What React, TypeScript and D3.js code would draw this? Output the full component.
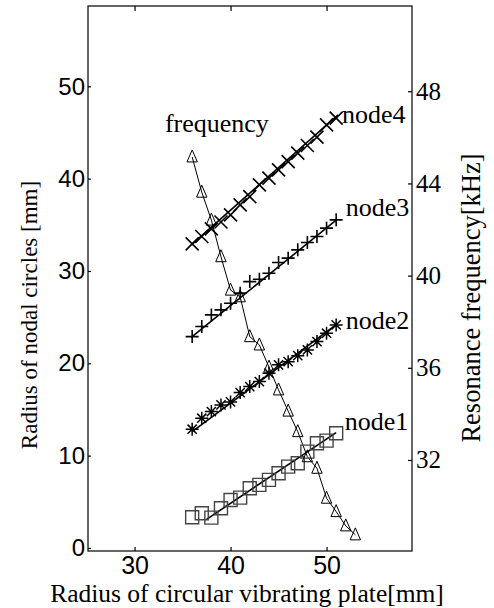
import React, { useEffect, useRef } from "react";
import * as d3 from "d3";

// plate radius [mm] for the nodal circle measurements
const plateRadius = [36, 37, 38, 39, 40, 41, 42, 43, 44, 45, 46, 47, 48, 49, 50, 51];
const node1 = [3.33, 3.76, 3.28, 4.3, 5.2, 5.45, 6.47, 6.83, 7.37, 8.09, 8.81, 9.18, 10.43, 11.34, 11.63, 12.43];
const node2 = [12.86, 14.05, 14.77, 15.49, 15.82, 16.83, 17.48, 18.02, 18.93, 19.83, 20.18, 20.83, 21.45, 22.35, 23.26, 24.16];
const node3 = [22.89, 23.98, 25.24, 25.79, 26.51, 27.6, 28.85, 29.11, 29.76, 30.91, 31.39, 32.29, 33.08, 33.73, 34.64, 35.54];
const node4 = [32.94, 33.73, 34.56, 35.3, 36.08, 37.16, 38.06, 39.33, 40.05, 40.95, 41.85, 42.76, 43.59, 44.5, 45.83, 46.55];

// resonance frequency [kHz]
const freqRadius = [36, 37, 38, 39, 40, 41, 42, 43, 44, 45, 46, 47, 48, 49, 50, 51, 52, 53];
const frequency = [45.15, 43.62, 42.41, 40.82, 39.37, 39.08, 37.35, 36.99, 36.03, 35.04, 34.12, 33.23, 32.14, 31.64, 30.34, 29.76, 29.14, 28.75];

// fitted straight lines, [start, end]
const fitX = [[37.5, 51], [36, 51], [35.9, 51], [36, 51.2]];
const fitY = [[3.1, 12.5], [12.6, 24.2], [22.8, 35.5], [32.9, 46.9]];

const nodeNames = ["node1", "node2", "node3", "node4"];
const nodeLabelX = [51.9, 52, 52, 51.6];
const nodeLabelY = [12.78, 23.73, 35.97, 46.05];

const xTicks = [30, 40, 50];
const yTicks = [0, 10, 20, 30, 40, 50];
const fTicks = [32, 36, 40, 44, 48];

const App = () => {
  const svgRef = useRef<SVGSVGElement>(null);

  useEffect(() => {
    const width = 494;
    const height = 608;
    const left = 88, right = 412, top = 6, bottom = 551;
    const serif = "'Liberation Serif', 'Times New Roman', serif";
    const sans = "'Liberation Sans', Arial, sans-serif";

    const svg = d3.select(svgRef.current).attr("width", width).attr("height", height);
    svg.selectAll("*").remove();

    const x = d3.scaleLinear().domain([25.15, 58.9]).range([left, right]);
    const y = d3.scaleLinear().domain([-0.33, 58.7]).range([bottom, top]);
    const yf = d3.scaleLinear().domain([28.05, 51.7]).range([bottom, top]);

    // frame
    svg.append("rect")
      .attr("x", left).attr("y", top)
      .attr("width", right - left).attr("height", bottom - top)
      .attr("fill", "none").attr("stroke", "#000").attr("stroke-width", 1.2);

    // axes (ticks pointing inward)
    const gx = svg.append("g").attr("transform", `translate(0,${bottom})`)
      .call(d3.axisBottom(x).tickValues(xTicks).tickSizeInner(-4).tickSizeOuter(0).tickPadding(5));
    gx.selectAll("text").attr("font-family", sans).attr("font-size", 25);

    svg.append("g").attr("transform", `translate(0,${top})`)
      .call(d3.axisTop(x).tickValues(xTicks).tickSizeInner(-5).tickSizeOuter(0).tickFormat(() => ""));

    const gy = svg.append("g").attr("transform", `translate(${left},0)`)
      .call(d3.axisLeft(y).tickValues(yTicks).tickSizeInner(-3).tickSizeOuter(0).tickPadding(3));
    gy.selectAll("text").attr("font-family", sans).attr("font-size", 24);

    const gf = svg.append("g").attr("transform", `translate(${right},0)`)
      .call(d3.axisRight(yf).tickValues(fTicks).tickSizeInner(-4).tickSizeOuter(0).tickPadding(4));
    gf.selectAll("text").attr("font-family", serif).attr("font-size", 25);

    svg.selectAll(".domain").remove();
    svg.selectAll(".tick line").attr("stroke", "#000").attr("stroke-width", 1.2);
    svg.selectAll(".tick text").attr("fill", "#000");

    // fitted node lines
    fitX.forEach((fx, i) => {
      svg.append("line")
        .attr("x1", x(fx[0])).attr("y1", y(fitY[i][0]))
        .attr("x2", x(fx[1])).attr("y2", y(fitY[i][1]))
        .attr("stroke", "#000").attr("stroke-width", 1.6);
    });

    // frequency line
    const fline = d3.line<number>()
      .x((_, i) => x(freqRadius[i]))
      .y((d) => yf(d));
    svg.append("path").datum(frequency).attr("d", fline)
      .attr("fill", "none").attr("stroke", "#000").attr("stroke-width", 1);

    const mark = (vals: number[], path: string, stroke: string, sw: number) => {
      svg.append("g").selectAll("path").data(vals).join("path")
        .attr("transform", (d, i) => `translate(${x(plateRadius[i])},${y(d)})`)
        .attr("d", path)
        .attr("fill", "none").attr("stroke", stroke).attr("stroke-width", sw);
    };

    const square = "M-6.5,-6.5H6.5V6.5H-6.5Z";
    const plus = "M-6.5,0H6.5M0,-6.5V6.5";
    const times = "M-6.5,-6.5L6.5,6.5M-6.5,6.5L6.5,-6.5";
    const star = "M-6.5,0H6.5M0,-6.5V6.5M-4.6,-4.6L4.6,4.6M-4.6,4.6L4.6,-4.6";

    mark(node1, square, "#444", 1.4);
    mark(node2, star, "#000", 1.5);
    mark(node3, plus, "#000", 1.6);
    mark(node4, times, "#000", 1.6);

    // triangles for frequency
    svg.append("g").selectAll("path").data(frequency).join("path")
      .attr("transform", (d, i) => `translate(${x(freqRadius[i])},${yf(d)})`)
      .attr("d", "M0,-7L5.2,5L-5.2,5Z")
      .attr("fill", "none").attr("stroke", "#000").attr("stroke-width", 1);

    // labels
    nodeNames.forEach((n, i) => {
      svg.append("text").attr("x", x(nodeLabelX[i])).attr("y", y(nodeLabelY[i]))
        .attr("font-family", serif).attr("font-size", 26).text(n);
    });
    svg.append("text").attr("x", x(33.16)).attr("y", y(45.07))
      .attr("font-family", serif).attr("font-size", 26).text("frequency");

    // axis titles
    svg.append("text").attr("x", 247).attr("y", 602).attr("text-anchor", "middle")
      .attr("font-family", serif).attr("font-size", 25.5)
      .text("Radius of circular vibrating plate[mm]");
    svg.append("text").attr("transform", "translate(37,315) rotate(-90)").attr("text-anchor", "middle")
      .attr("font-family", serif).attr("font-size", 23)
      .text("Radius of nodal circles [mm]");
    svg.append("text").attr("transform", "translate(480,298) rotate(-90)").attr("text-anchor", "middle")
      .attr("font-family", serif).attr("font-size", 26.5)
      .text("Resonance frequency[kHz]");
  }, []);

  return (
    <svg ref={svgRef} style={{ position: "absolute", left: 0, top: 0, background: "#fff" }}></svg>
  );
};

export default App;
